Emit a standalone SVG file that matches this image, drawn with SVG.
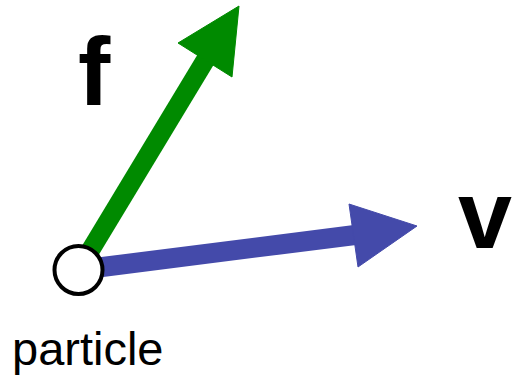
<svg xmlns="http://www.w3.org/2000/svg" width="513" height="375" viewBox="0 0 513 375">
<style>
.lbl{font-family:"Liberation Sans",Arial,sans-serif;fill:#000}
.big{font-weight:bold;font-size:97px}
.f{stroke:#008a00;fill:#008a00}
.v{stroke:#444aaa;fill:#444aaa}
</style>
<rect width="513" height="375" fill="#fff"/>
<g id="connectors">
<g id="force">
<line class="f" x1="78.5" y1="270" x2="206" y2="59" stroke-width="19"/>
<polygon class="f" stroke="none" points="239,6 178,43 232,77"/>
</g>
<g id="velocity">
<line class="v" x1="78.5" y1="270" x2="355" y2="235" stroke-width="20"/>
<polygon class="v" stroke="none" points="417,226 349,204 358,267"/>
</g>
</g>
<g id="particle">
<circle cx="78.5" cy="270" r="24" fill="#fff" stroke="#000" stroke-width="4"/>
<text class="lbl" x="12" y="365" font-size="47">particle</text>
</g>
<g id="label-f"><text class="lbl big" x="78" y="105">f</text></g>
<g id="label-v"><text class="lbl big" x="458" y="248">v</text></g>
</svg>
